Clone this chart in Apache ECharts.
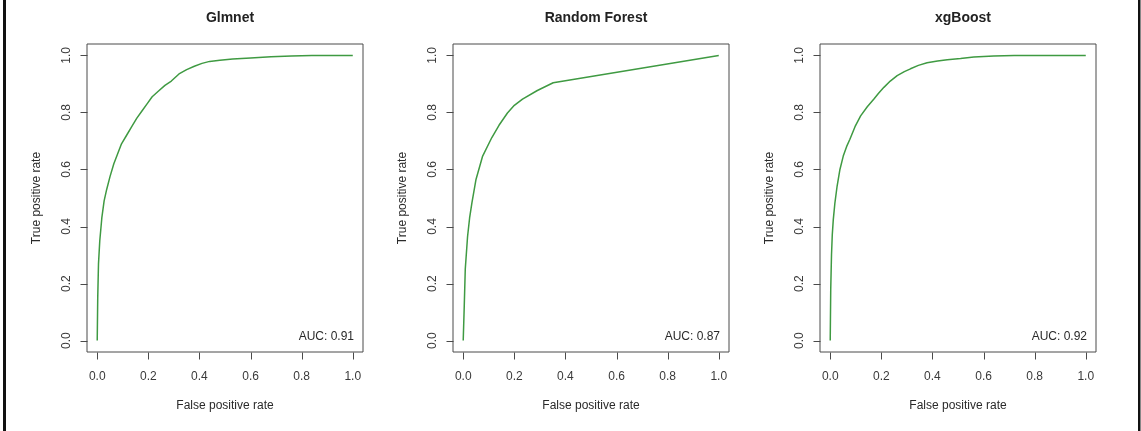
<!DOCTYPE html>
<html>
<head>
<meta charset="utf-8">
<script src="https://cdn.jsdelivr.net/npm/echarts@6/dist/echarts.min.js"></script>
<style>
  html, body { margin: 0; padding: 0; background: #fff; }
  #chart { width: 1141px; height: 431px; }
</style>
</head>
<body>
<div id="chart"></div>
<script>
// ROC curves for three classifiers
const titles = ['Glmnet', 'Random Forest', 'xgBoost'];
const aucLabels = ['AUC: 0.91', 'AUC: 0.87', 'AUC: 0.92'];
const tickValues = [0, 0.2, 0.4, 0.6, 0.8, 1.0];

const glmnetFpr = [0, 0.002, 0.005, 0.01, 0.018, 0.027, 0.037, 0.05, 0.065, 0.08, 0.095, 0.115, 0.135, 0.155, 0.175, 0.195, 0.215, 0.24, 0.265, 0.29, 0.32, 0.35, 0.38, 0.41, 0.44, 0.48, 0.53, 0.6, 0.68, 0.76, 0.84, 1.0];
const glmnetTpr = [0, 0.15, 0.27, 0.35, 0.43, 0.49, 0.53, 0.575, 0.62, 0.655, 0.69, 0.72, 0.75, 0.78, 0.805, 0.83, 0.855, 0.875, 0.895, 0.91, 0.935, 0.95, 0.962, 0.972, 0.979, 0.983, 0.987, 0.991, 0.995, 0.998, 1.0, 1.0];

const rfFpr = [0, 0.004, 0.008, 0.017, 0.025, 0.034, 0.05, 0.076, 0.112, 0.14, 0.173, 0.2, 0.232, 0.29, 0.352, 1.0];
const rfTpr = [0, 0.12, 0.25, 0.365, 0.43, 0.483, 0.565, 0.647, 0.712, 0.755, 0.798, 0.825, 0.847, 0.877, 0.904, 1.0];

const xgbFpr = [0, 0.002, 0.005, 0.008, 0.012, 0.018, 0.027, 0.038, 0.051, 0.064, 0.077, 0.097, 0.119, 0.145, 0.171, 0.19, 0.21, 0.235, 0.262, 0.29, 0.314, 0.345, 0.379, 0.42, 0.458, 0.51, 0.562, 0.64, 0.72, 1.0];
const xgbTpr = [0, 0.18, 0.3, 0.37, 0.424, 0.48, 0.542, 0.6, 0.647, 0.68, 0.706, 0.75, 0.788, 0.82, 0.847, 0.868, 0.888, 0.91, 0.929, 0.943, 0.953, 0.965, 0.974, 0.98, 0.985, 0.989, 0.994, 0.998, 1.0, 1.0];

const curves = [
  [glmnetFpr, glmnetTpr],
  [rfFpr, rfTpr],
  [xgbFpr, xgbTpr]
];

// Panel layout: framed plot boxes; data range 0..1 padded by 4% on each side
const boxLeft = [87, 453, 820];
const boxWidth = 276;
const boxTop = 44;
const boxHeight = 308;
const tickLen = 7;

const font = '"Liberation Sans", Arial, Helvetica, sans-serif';
const textColor = '#2a2a2a';
const frameColor = '#4a4a4a';
const lineGreen = '#3f9a42';

const grids = [], xAxes = [], yAxes = [], series = [], titleList = [], graphics = [];

curves.forEach(([fpr, tpr], i) => {
  const main = 2 * i;      // padded axes that carry the curve and labels
  const edge = 2 * i + 1;  // hidden 0..1 axes whose zero sits on the frame edge

  grids.push({
    left: boxLeft[i], top: boxTop, width: boxWidth, height: boxHeight,
    show: true, borderColor: frameColor, borderWidth: 1, backgroundColor: 'transparent'
  });

  xAxes.push({
    type: 'value', gridIndex: i, min: -0.04, max: 1.04,
    name: 'False positive rate', nameLocation: 'middle', nameGap: 48,
    nameTextStyle: { fontFamily: font, fontSize: 12, color: textColor },
    axisLine: { show: false, onZero: true, onZeroAxisIndex: edge },
    axisTick: { show: false },
    axisLabel: { customValues: tickValues, margin: 19, fontFamily: font, fontSize: 12, color: '#3a3a3a',
      formatter: v => v.toFixed(1) },
    splitLine: { show: false }
  });
  xAxes.push({ type: 'value', gridIndex: i, min: 0, max: 1, show: false });

  yAxes.push({
    type: 'value', gridIndex: i, min: -0.04, max: 1.04,
    name: 'True positive rate', nameLocation: 'middle', nameGap: 44,
    nameTextStyle: { fontFamily: font, fontSize: 12, color: textColor },
    axisLine: { show: false, onZero: true, onZeroAxisIndex: edge },
    axisTick: { show: false },
    axisLabel: { customValues: tickValues, rotate: 90, margin: 14, fontFamily: font, fontSize: 12, color: '#3a3a3a',
      formatter: v => v.toFixed(1) },
    splitLine: { show: false }
  });
  yAxes.push({ type: 'value', gridIndex: i, min: 0, max: 1, show: false });

  series.push({
    type: 'line', xAxisIndex: main, yAxisIndex: main,
    data: fpr.map((x, k) => [x, tpr[k]]),
    showSymbol: false, smooth: false,
    lineStyle: { color: lineGreen, width: 1.5 },
    silent: true
  });
  titleList.push({
    text: titles[i],
    left: boxLeft[i] + boxWidth / 2, top: 6, textAlign: 'center',
    textStyle: { fontFamily: font, fontSize: 14, fontWeight: 'bold', color: '#222' }
  });
  graphics.push({
    type: 'text',
    x: boxLeft[i] + boxWidth - 9, y: boxTop + boxHeight - 15,
    style: { text: aucLabels[i], fill: '#2a2a2a', font: '12px ' + font, textAlign: 'right', textVerticalAlign: 'middle' }
  });
});

// Outer frame lines on the left and right edges
graphics.push({ type: 'rect', shape: { x: 3, y: 0, width: 3, height: 431 }, style: { fill: '#111' } });
graphics.push({ type: 'rect', shape: { x: 1138, y: 0, width: 2.5, height: 431 }, style: { fill: '#111' } });

const chart = echarts.init(document.getElementById('chart'), null, { renderer: 'canvas' });
chart.setOption({
  animation: false,
  backgroundColor: '#fff',
  title: titleList,
  grid: grids,
  xAxis: xAxes,
  yAxis: yAxes,
  series: series
});

// Outward tick marks on the frame edges, placed through each panel's axis scale
const tickStyle = { stroke: frameColor, lineWidth: 1 };
curves.forEach((_, i) => {
  const bottom = boxTop + boxHeight + 0.5;
  const left = boxLeft[i] + 0.5;
  tickValues.forEach(v => {
    const px = Math.round(chart.convertToPixel({ xAxisIndex: 2 * i }, v)) + 0.5;
    const py = Math.round(chart.convertToPixel({ yAxisIndex: 2 * i }, v)) + 0.5;
    graphics.push({ type: 'line', shape: { x1: px, y1: bottom, x2: px, y2: bottom + tickLen }, style: tickStyle });
    graphics.push({ type: 'line', shape: { x1: left - tickLen, y1: py, x2: left, y2: py }, style: tickStyle });
  });
});

chart.setOption({ graphic: graphics });
</script>
</body>
</html>
